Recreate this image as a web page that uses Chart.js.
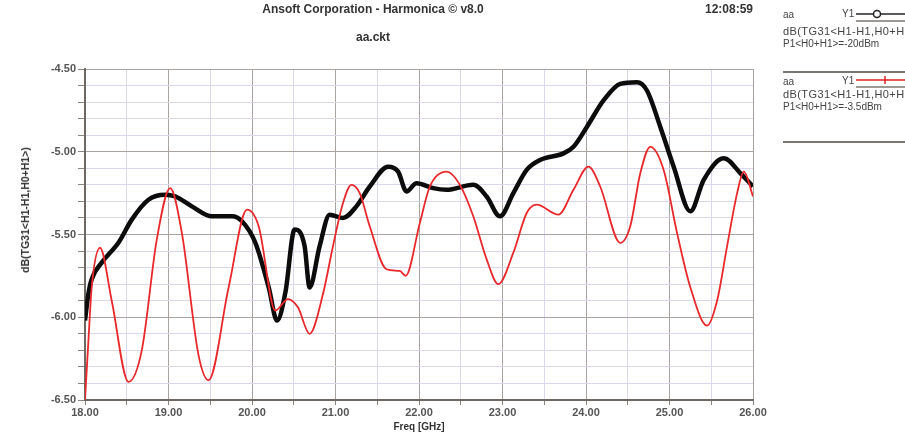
<!DOCTYPE html>
<html lang="en">
<head>
    <meta charset="UTF-8">
    <title>aa.ckt - Harmonica</title>
    <script src="https://cdn.jsdelivr.net/npm/chart.js"></script>
    <style>
        body { margin: 0; background: #fff; }
        .wrap { position: relative; width: 905px; height: 435px; overflow: hidden; font-family: 'Liberation Sans', Arial, sans-serif; }
        canvas { position: absolute; left: 0; top: 0; }
        .t { position: absolute; white-space: nowrap; color: #333; }
        .hdr { font-weight: bold; font-size: 12px; transform: translateX(-50%); }
        .leg { font-size: 10px; color: #444; left: 783px; }
        .leg.long { font-size: 11px; letter-spacing: 0.4px; }
        .rule { position: absolute; left: 783px; width: 122px; height: 2px; background: #7a7672; }
        .ytitle { position: absolute; left: 25px; top: 210px; font-weight: bold; font-size: 10.5px; color: #333;
                  transform: translate(-50%, -50%) rotate(-90deg); white-space: nowrap; }
    </style>
</head>
<body>
    <div class="wrap">
        <canvas id="harmChart" width="905" height="435"></canvas>

        <div class="t hdr" style="left:373px; top:2px;">Ansoft Corporation - Harmonica &copy; v8.0</div>
        <div class="t hdr" style="left:373px; top:30px;">aa.ckt</div>
        <div class="t" style="left:705px; top:2px; font-weight:bold; font-size:12px;">12:08:59</div>
        <div class="ytitle">dB(TG31&lt;H1-H1,H0+H1&gt;)</div>

        <!-- legend block 1 -->
        <div class="t leg" style="top:9px;">aa</div>
        <div class="t leg" style="left:842px; top:8px;">Y1</div>
        <div class="t leg long" style="top:25px;">dB(TG31&lt;H1-H1,H0+H1&gt;)</div>
        <div class="t leg" style="top:38px;">P1&lt;H0+H1&gt;=-20dBm</div>
        <div class="rule" style="top:71px;"></div>

        <!-- legend block 2 -->
        <div class="t leg" style="top:76px;">aa</div>
        <div class="t leg" style="left:842px; top:75px;">Y1</div>
        <div class="t leg long" style="top:88px;">dB(TG31&lt;H1-H1,H0+H1&gt;)</div>
        <div class="t leg" style="top:101px;">P1&lt;H0+H1&gt;=-3.5dBm</div>
        <div class="rule" style="top:141px;"></div>
    </div>

    <script>
        // traces: frequency in GHz, level in dB
        const blackFreq = [18.00, 18.04, 18.08, 18.20, 18.40, 18.56, 18.76, 18.96, 19.08, 19.28, 19.52, 19.76, 19.88,
            20.04, 20.20, 20.30, 20.40, 20.51, 20.63, 20.69, 20.81, 20.93, 21.09, 21.25, 21.41, 21.63, 21.75,
            21.85, 21.97, 22.17, 22.33, 22.65, 22.81, 22.97, 23.13, 23.29, 23.45, 23.73, 23.85, 24.01, 24.21,
            24.41, 24.61, 24.73, 24.89, 25.05, 25.25, 25.41, 25.65, 25.85, 26.00];
        const blackDb = [-6.02, -5.86, -5.77, -5.67, -5.55, -5.41, -5.29, -5.26, -5.27, -5.33, -5.39, -5.39, -5.42,
            -5.55, -5.82, -6.02, -5.85, -5.47, -5.57, -5.82, -5.57, -5.38, -5.40, -5.33, -5.21, -5.09, -5.12,
            -5.24, -5.19, -5.22, -5.23, -5.20, -5.27, -5.39, -5.25, -5.11, -5.05, -5.01, -4.97, -4.85, -4.69,
            -4.59, -4.58, -4.63, -4.85, -5.09, -5.36, -5.17, -5.04, -5.13, -5.21];

        const redFreq = [18.00, 18.04, 18.08, 18.18, 18.32, 18.52, 18.68, 18.86, 19.02, 19.16, 19.36, 19.48, 19.72,
            19.94, 20.08, 20.28, 20.43, 20.55, 20.69, 20.85, 20.97, 21.09, 21.19, 21.29, 21.41, 21.61, 21.77,
            21.84, 22.01, 22.13, 22.33, 22.49, 22.65, 22.81, 22.95, 23.13, 23.29, 23.41, 23.67, 23.85, 24.03,
            24.17, 24.41, 24.53, 24.65, 24.77, 24.93, 25.09, 25.25, 25.45, 25.57, 25.69, 25.81, 25.89, 26.00];
        const redDb = [-6.50, -6.15, -5.82, -5.58, -5.90, -6.39, -6.20, -5.53, -5.22, -5.49, -6.23, -6.38, -5.82,
            -5.35, -5.45, -5.96, -5.89, -5.94, -6.10, -5.86, -5.57, -5.31, -5.20, -5.25, -5.45, -5.71, -5.72,
            -5.75, -5.43, -5.21, -5.12, -5.20, -5.39, -5.65, -5.80, -5.61, -5.37, -5.32, -5.38, -5.23, -5.09,
            -5.21, -5.55, -5.45, -5.13, -4.97, -5.11, -5.49, -5.82, -6.05, -5.90, -5.57, -5.25, -5.12, -5.27];

        const freqMin = 18, freqMax = 26;
        const dbMin = -6.5, dbMax = -4.5;

        const majorGrid = '#a9a4a0';
        const minorGrid = '#dcd7ec';
        const tickFont = { family: "'Liberation Sans', Arial, sans-serif", size: 11, weight: 'bold' };

        function isMajor(v, step) {
            return Math.abs(v / step - Math.round(v / step)) < 1e-6;
        }

        function toPoints(xs, ys) {
            return xs.map((x, i) => ({ x: x, y: ys[i] }));
        }

        // little legend line samples on the right
        const legendLines = {
            id: 'legendLines',
            afterDraw(chart) {
                const c = chart.ctx;
                c.save();
                c.lineWidth = 1.5;
                c.strokeStyle = '#222';
                c.beginPath(); c.moveTo(856, 14); c.lineTo(905, 14); c.stroke();
                c.fillStyle = '#fff';
                c.beginPath(); c.arc(877, 14, 3.5, 0, Math.PI * 2); c.fill(); c.stroke();
                c.strokeStyle = '#7a7672';
                c.beginPath(); c.moveTo(856, 21); c.lineTo(905, 21); c.stroke();

                c.strokeStyle = '#e02020';
                c.beginPath(); c.moveTo(856, 80); c.lineTo(905, 80); c.stroke();
                c.beginPath(); c.moveTo(885, 76); c.lineTo(885, 84); c.stroke();
                c.strokeStyle = '#7a7672';
                c.beginPath(); c.moveTo(856, 87); c.lineTo(905, 87); c.stroke();
                c.restore();
            }
        };

        const ctx = document.getElementById('harmChart').getContext('2d');
        new Chart(ctx, {
            type: 'line',
            data: {
                datasets: [{
                    label: 'P1<H0+H1>=-3.5dBm',
                    data: toPoints(redFreq, redDb),
                    borderColor: '#e8282a',
                    borderWidth: 1.8,
                    pointRadius: 0,
                    cubicInterpolationMode: 'monotone',
                    fill: false
                }, {
                    label: 'P1<H0+H1>=-20dBm',
                    data: toPoints(blackFreq, blackDb),
                    borderColor: '#0c0c0c',
                    borderWidth: 4.5,
                    pointRadius: 0,
                    cubicInterpolationMode: 'monotone',
                    fill: false
                }]
            },
            options: {
                responsive: false,
                animation: false,
                layout: { padding: { left: 0, right: 152, top: 69, bottom: 0 } },
                plugins: {
                    legend: { display: false },
                    tooltip: { enabled: false }
                },
                scales: {
                    x: {
                        type: 'linear',
                        min: freqMin,
                        max: freqMax,
                        afterFit: s => { s.height = 35; },
                        border: { color: '#6d6864', width: 2 },
                        grid: {
                            color: c => isMajor(c.tick.value, 1) ? majorGrid : minorGrid,
                            lineWidth: 1,
                            tickLength: 5,
                            tickColor: '#8a8580'
                        },
                        ticks: {
                            stepSize: 0.5,
                            autoSkip: false,
                            maxRotation: 0,
                            padding: 1,
                            color: '#555',
                            font: tickFont,
                            callback: v => isMajor(v, 1) ? v.toFixed(2) : ''
                        },
                        title: {
                            display: true,
                            text: 'Freq [GHz]',
                            color: '#333',
                            font: { family: "'Liberation Sans', Arial, sans-serif", size: 10, weight: 'bold' },
                            padding: { top: 0, bottom: 2 }
                        }
                    },
                    y: {
                        min: dbMin,
                        max: dbMax,
                        afterFit: s => { s.width = 85; },
                        border: { color: '#6d6864', width: 2 },
                        grid: {
                            color: c => isMajor(c.tick.value, 0.5) ? majorGrid : minorGrid,
                            lineWidth: 1,
                            tickLength: 7,
                            tickColor: '#8a8580'
                        },
                        ticks: {
                            stepSize: 0.1,
                            autoSkip: false,
                            padding: 2,
                            color: '#555',
                            font: tickFont,
                            callback: v => isMajor(v, 0.5) ? v.toFixed(2) : ''
                        }
                    }
                }
            },
            plugins: [legendLines]
        });
    </script>
</body>
</html>
